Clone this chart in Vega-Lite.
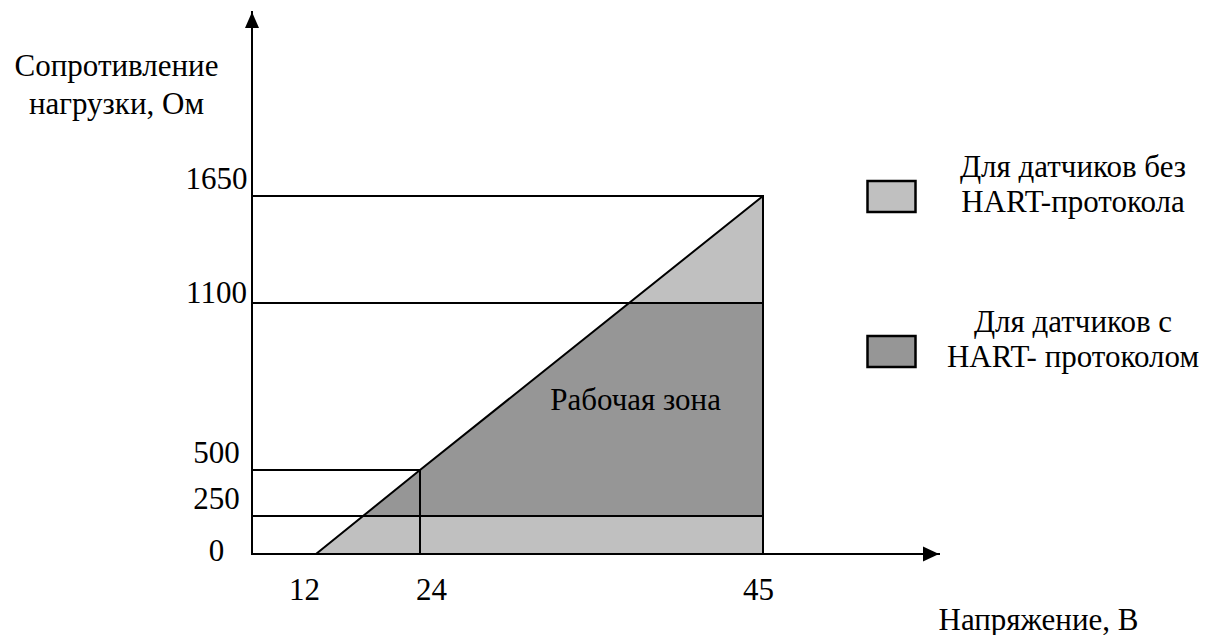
{
  "$schema": "https://vega.github.io/schema/vega-lite/v6.json",
  "width": 687,
  "height": 542,
  "autosize": "none",
  "padding": {"left": 252, "top": 12, "right": 267, "bottom": 81},
  "background": "white",
  "config": {"view": {"stroke": null}, "font": "Liberation Serif, DejaVu Serif, serif"},
  "encoding": {
    "x": {
      "field": "x", "type": "quantitative",
      "scale": {"domain": [0, 12, 24, 45, 55], "range": [0, 64, 168, 511, 687], "nice": false, "zero": false},
      "axis": {
        "values": [12, 24, 45], "format": "d", "ticks": false, "tickSize": 0, "domain": false, "grid": false,
        "labelFont": "Liberation Serif, DejaVu Serif, serif", "labelFontSize": 31, "labelColor": "black",
        "labelBaseline": "alphabetic", "labelPadding": 45, "labelFlush": false, "labelOverlap": false, "labelBound": false,
        "labelOffset": {"condition": [{"test": "datum.value == 12", "value": -12}, {"test": "datum.value == 24", "value": 11}], "value": -5},
        "title": "Напряжение, В", "titleFont": "Liberation Serif, DejaVu Serif, serif", "titleFontSize": 31, "titleFontWeight": "normal", "titleColor": "black",
        "titleX": 786, "titleY": 75, "titleAlign": "center", "titleBaseline": "alphabetic", "titleAnchor": null
      }
    },
    "y": {
      "field": "y", "type": "quantitative",
      "scale": {"domain": [0, 250, 500, 1100, 1650, 2000], "range": [542, 504, 458, 291, 184, 0], "nice": false, "zero": false},
      "axis": {
        "values": [0, 250, 500, 1100, 1650], "format": "d", "ticks": false, "tickSize": 0, "domain": false, "grid": false,
        "labelFont": "Liberation Serif, DejaVu Serif, serif", "labelFontSize": 31, "labelColor": "black",
        "labelAlign": "center", "labelBaseline": "alphabetic", "labelPadding": 36, "labelOverlap": false, "labelBound": false, "labelFlush": false,
        "labelOffset": {"condition": [{"test": "datum.value == 0", "value": 6}, {"test": "datum.value == 1100", "value": -1}], "value": -8},
        "title": ["Сопротивление", "нагрузки, Ом"], "titleFont": "Liberation Serif, DejaVu Serif, serif", "titleFontSize": 31, "titleFontWeight": "normal", "titleColor": "black",
        "titleAngle": 0, "titleX": -136, "titleY": 63, "titleAlign": "center", "titleBaseline": "alphabetic", "titleLineHeight": 38, "titleAnchor": null
      }
    }
  },
  "layer": [
    {
      "data": {"values": [
        {"x": 12, "y": 0, "y2": 0, "zone": "Для датчиков без|HART-протокола"},
        {"x": 24, "y": 500, "y2": 0, "zone": "Для датчиков без|HART-протокола"},
        {"x": 45, "y": 1650, "y2": 0, "zone": "Для датчиков без|HART-протокола"}
      ]},
      "mark": {"type": "area", "opacity": 1},
      "encoding": {
        "y2": {"field": "y2"},
        "color": {
          "field": "zone", "type": "nominal",
          "scale": {"domain": ["Для датчиков без|HART-протокола", "Для датчиков с|HART- протоколом"], "range": ["#c0c0c0", "#969696"]},
          "legend": {
            "orient": "none", "legendX": 614, "legendY": 159, "title": null, "padding": 0,
            "symbolType": "M-1,-0.646L1,-0.646L1,0.646L-1,0.646Z", "symbolSize": 2304,
            "symbolStrokeColor": "black", "symbolStrokeWidth": 2, "symbolOpacity": 1,
            "labelFont": "Liberation Serif, DejaVu Serif, serif", "labelFontSize": 31, "labelColor": "black",
            "labelAlign": "center", "labelOffset": 156, "labelLimit": 400,
            "labelExpr": "split(datum.label, '|')", "rowPadding": 88,
            "encode": {
              "symbols": {"update": {
                "fill": {"signal": "indexof(datum.value, 'протоколом') >= 0 ? '#808080' : '#c0c0c0'"},
                "stroke": {"value": "black"},
                "strokeWidth": {"value": 2.5},
                "opacity": {"value": 1}
              }},
              "labels": {"update": {"lineHeight": {"value": 35}, "dy": {"value": -29}}}
            }
          }
        }
      }
    },
    {
      "data": {"values": [
        {"x": 17.47, "y": 250, "y2": 250, "zone": "Для датчиков с|HART- протоколом"},
        {"x": 24, "y": 500, "y2": 250, "zone": "Для датчиков с|HART- протоколом"},
        {"x": 36.82, "y": 1100, "y2": 250, "zone": "Для датчиков с|HART- протоколом"},
        {"x": 45, "y": 1100, "y2": 250, "zone": "Для датчиков с|HART- протоколом"}
      ]},
      "mark": {"type": "area", "opacity": 1},
      "encoding": {
        "y2": {"field": "y2"},
        "color": {"field": "zone", "type": "nominal"}
      }
    },
    {
      "data": {"values": [
        {"x": 0, "x2": 45, "y": 1650, "y2": 1650},
        {"x": 0, "x2": 45, "y": 1100, "y2": 1100},
        {"x": 0, "x2": 45, "y": 250, "y2": 250},
        {"x": 0, "x2": 24, "y": 500, "y2": 500},
        {"x": 24, "x2": 24, "y": 0, "y2": 500},
        {"x": 45, "x2": 45, "y": 0, "y2": 1650},
        {"x": 0, "x2": 0, "y": 0, "y2": 2000},
        {"x": 0, "x2": 55, "y": 0, "y2": 0}
      ]},
      "mark": {"type": "rule", "color": "black", "strokeWidth": 2, "strokeCap": "square"},
      "encoding": {"x2": {"field": "x2"}, "y2": {"field": "y2"}}
    },
    {
      "data": {"values": [
        {"x": 12, "y": 0},
        {"x": 24, "y": 500},
        {"x": 45, "y": 1650}
      ]},
      "mark": {"type": "line", "color": "black", "strokeWidth": 2},
      "encoding": {}
    },
    {
      "data": {"values": [{"x": 0, "y": 2000}]},
      "mark": {"type": "point", "shape": "M0,0L0.4375,1L-0.4375,1Z", "size": 1024, "filled": true, "color": "black", "opacity": 1, "strokeWidth": 0},
      "encoding": {}
    },
    {
      "data": {"values": [{"x": 55, "y": 0}]},
      "mark": {"type": "point", "shape": "M0,0L-1,-0.47L-1,0.47Z", "size": 1024, "filled": true, "color": "black", "opacity": 1, "strokeWidth": 0},
      "encoding": {}
    },
    {
      "data": {"values": [{"x": 37.2, "y": 715, "label": "Рабочая зона"}]},
      "mark": {"type": "text", "font": "Liberation Serif, DejaVu Serif, serif", "fontSize": 31, "align": "center", "baseline": "alphabetic", "color": "black"},
      "encoding": {"text": {"field": "label"}}
    }
  ]
}
